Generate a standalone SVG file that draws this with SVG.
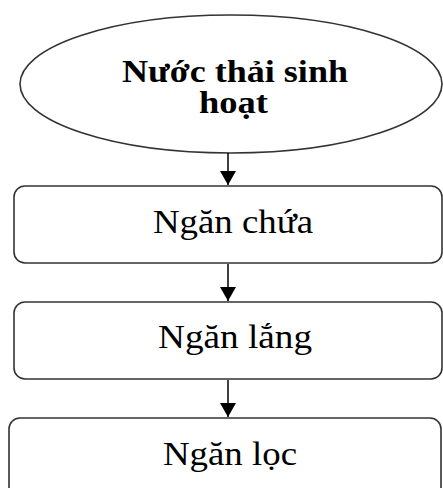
<svg xmlns="http://www.w3.org/2000/svg" width="443" height="488" viewBox="0 0 443 488">
<style>
.shape{fill:#fff;stroke:#333;stroke-width:1.6}
.lbl{font-family:"Liberation Serif","Times New Roman",serif;font-size:33px;fill:#000;text-anchor:middle}
.bold{font-weight:bold;font-size:31px}
.conn{stroke:#000;stroke-width:1.5;fill:none}
</style>
<defs>
<marker id="ah" viewBox="0 0 14 16" refX="14" refY="8" markerWidth="14" markerHeight="16" markerUnits="userSpaceOnUse" orient="auto">
<path d="M0,0 L14,8 L0,16 Z" fill="#000"/>
</marker>
</defs>
<g id="n1">
<ellipse class="shape" cx="231" cy="84" rx="211" ry="69"/>
<text class="lbl bold" x="235" y="82" textLength="226" lengthAdjust="spacingAndGlyphs">Nước thải sinh</text>
<text class="lbl bold" x="233.5" y="113" textLength="69" lengthAdjust="spacingAndGlyphs">hoạt</text>
</g>
<g id="n2">
<rect class="shape" x="14" y="186" width="428" height="77" rx="11"/>
<text class="lbl" x="233" y="233" textLength="160" lengthAdjust="spacingAndGlyphs">Ngăn chứa</text>
</g>
<g id="n3">
<rect class="shape" x="14" y="302" width="428" height="77" rx="11"/>
<text class="lbl" x="235" y="348" textLength="154" lengthAdjust="spacingAndGlyphs">Ngăn lắng</text>
</g>
<g id="n4">
<rect class="shape" x="9" y="418" width="432" height="85" rx="11"/>
<text class="lbl" x="230" y="465" textLength="134" lengthAdjust="spacingAndGlyphs">Ngăn lọc</text>
</g>
<g id="connectors">
<line class="conn" x1="228" y1="153" x2="228" y2="185" marker-end="url(#ah)"/>
<line class="conn" x1="228" y1="264" x2="228" y2="301" marker-end="url(#ah)"/>
<line class="conn" x1="228" y1="380" x2="228" y2="417" marker-end="url(#ah)"/>
</g>
</svg>
